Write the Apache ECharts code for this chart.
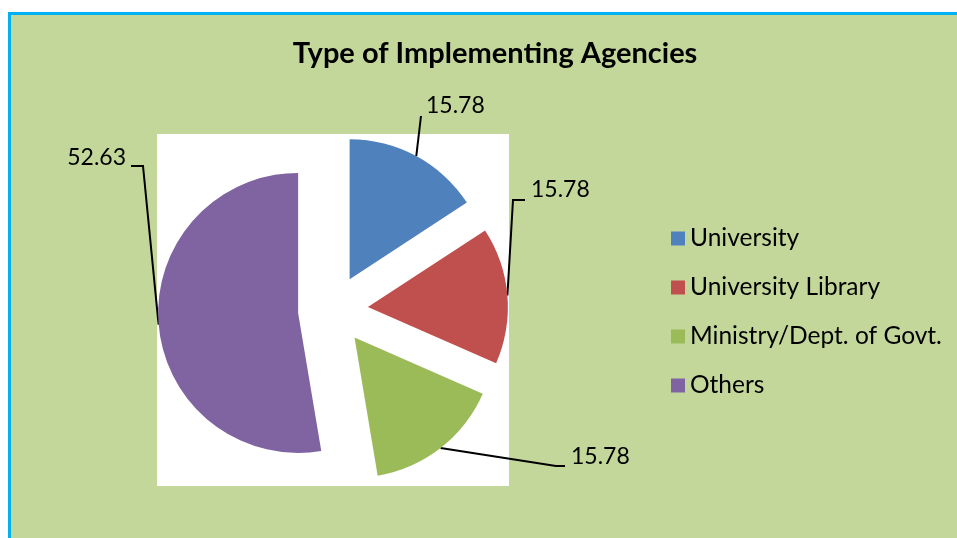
<!DOCTYPE html>
<html><head><meta charset="utf-8">
<script src="https://cdn.jsdelivr.net/npm/echarts@6/dist/echarts.min.js"></script>
<style>html,body{margin:0;padding:0;background:#fff}#c{width:957px;height:538px}</style>
</head><body><div id="c"></div>
<script>
// ---- data ----
const categories = ['University', 'University Library', 'Ministry/Dept. of Govt.', 'Others'];
const values = [15.78, 15.78, 15.78, 52.63];
const colors = ['#4f81bd', '#c0504d', '#9bbb59', '#8064a2'];
const titleText = 'Type of Implementing Agencies';

// ---- layout / style ----
const CX = 333, CY = 310, R = 140, OFFSET = 35;
const FONT = 'Lato, "Open Sans", sans-serif';
const labelPlacement = [
  { x: 426, y: 106, align: 'left',  elbow: [[421, 116]] },
  { x: 531, y: 190, align: 'left',  elbow: [[513, 200], [525, 200]] },
  { x: 571, y: 457, align: 'left',  elbow: [[556, 466], [565, 466]] },
  { x: 126, y: 158, align: 'right', elbow: [[143, 166], [131, 166]] }
];

const total = values.reduce((a, b) => a + b, 0);
function arcPoint(i) {
  let cum = 0;
  for (let k = 0; k < i; k++) cum += values[k];
  const a = 2 * Math.PI * (cum + values[i] / 2) / total;
  const d = R + OFFSET;
  return [CX + d * Math.sin(a), CY - d * Math.cos(a)];
}

const chart = echarts.init(document.getElementById('c'), null, { renderer: 'canvas' });
chart.setOption({
  animation: false,
  backgroundColor: '#ffffff',
  graphic: [
    { type: 'rect', z: -10, shape: { x: 9.5, y: 13.5, width: 1000, height: 600 },
      style: { fill: '#c4d79b', stroke: '#00b0f0', lineWidth: 3 } },
    { type: 'rect', z: -9, shape: { x: 157, y: 134, width: 352, height: 352 },
      style: { fill: '#ffffff' } }
  ],
  title: {
    text: titleText, left: 490, top: 34, textAlign: 'center',
    textStyle: { fontFamily: FONT, fontWeight: 'bold', fontSize: 29, color: '#000' }
  },
  legend: {
    orient: 'vertical', left: 666, top: 221, itemWidth: 14, itemHeight: 14, itemGap: 24,
    icon: 'rect', data: categories,
    textStyle: { fontFamily: FONT, fontSize: 24.5, lineHeight: 24, height: 24, color: '#000' }
  },
  series: [{
    // visible exploded slices
    type: 'pie', center: [CX, CY], radius: R, startAngle: 90, clockwise: true,
    selectedMode: 'multiple', selectedOffset: OFFSET, avoidLabelOverlap: false,
    data: categories.map((n, i) => ({ name: n, value: values[i], selected: true, itemStyle: { color: colors[i] } })),
    label: { show: false }, labelLine: { show: false },
    emphasis: { disabled: true },
    select: { itemStyle: { borderWidth: 0 } }
  }, {
    // value labels with leader lines
    type: 'pie', center: [CX, CY], radius: R, startAngle: 90, clockwise: true,
    silent: true, selectedMode: false, avoidLabelOverlap: false,
    data: categories.map((n, i) => ({ name: n, value: values[i], itemStyle: { color: 'rgba(0,0,0,0)' } })),
    label: { show: true, position: 'outside', formatter: '{c}', color: '#000', fontSize: 23, fontFamily: FONT },
    labelLine: { show: true, lineStyle: { color: '#000', width: 2 } },
    labelLayout: function (p) {
      const pl = labelPlacement[p.dataIndex];
      return { x: pl.x, y: pl.y, align: pl.align, verticalAlign: 'middle',
               labelLinePoints: [arcPoint(p.dataIndex)].concat(pl.elbow) };
    },
    emphasis: { disabled: true }
  }]
});
</script></body></html>
